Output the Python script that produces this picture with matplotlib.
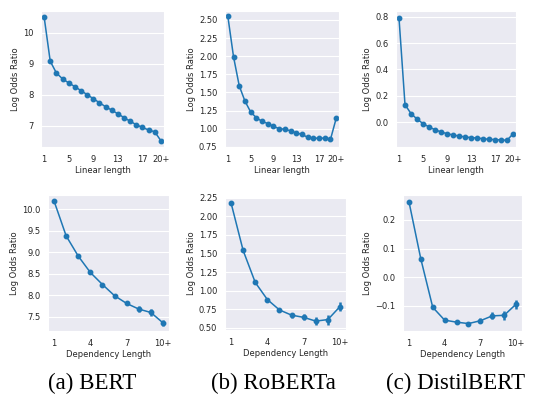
import numpy as np
import matplotlib
matplotlib.use("Agg")
import matplotlib.pyplot as plt
import seaborn as sns

# ---- data ----
LIN_LABELS = ["1", "5", "9", "13", "17", "20+"]
LIN_TICKS = [0, 4, 8, 12, 16, 19]
DEP_LABELS = ["1", "4", "7", "10+"]
DEP_TICKS = [0, 3, 6, 9]

bert_lin = [10.52, 9.08, 8.70, 8.51, 8.38, 8.26, 8.13, 8.00, 7.87, 7.74,
            7.61, 7.50, 7.38, 7.26, 7.14, 7.03, 6.94, 6.86, 6.80, 6.51]
bert_lin_err = [0.01, 0.01, 0.01, 0.01, 0.01, 0.01, 0.01, 0.01, 0.01, 0.01,
                0.01, 0.01, 0.01, 0.01, 0.01, 0.01, 0.015, 0.015, 0.02, 0.03]
roberta_lin = [2.55, 1.99, 1.59, 1.38, 1.23, 1.15, 1.10, 1.07, 1.03, 1.00,
               0.99, 0.97, 0.94, 0.92, 0.88, 0.87, 0.865, 0.87, 0.85, 1.14]
roberta_lin_err = [0.005, 0.005, 0.005, 0.005, 0.005, 0.005, 0.005, 0.005, 0.005, 0.005,
                   0.005, 0.005, 0.006, 0.006, 0.007, 0.008, 0.01, 0.01, 0.012, 0.012]
distil_lin = [0.79, 0.134, 0.066, 0.025, -0.010, -0.035, -0.056, -0.073, -0.086, -0.096,
              -0.104, -0.111, -0.116, -0.119, -0.124, -0.129, -0.131, -0.134, -0.136, -0.088]
distil_lin_err = [0.002, 0.002, 0.002, 0.002, 0.002, 0.002, 0.002, 0.002, 0.002, 0.002,
                  0.002, 0.002, 0.002, 0.002, 0.002, 0.003, 0.003, 0.003, 0.004, 0.004]

bert_dep = [10.19, 9.38, 8.91, 8.53, 8.25, 7.99, 7.81, 7.68, 7.60, 7.36]
bert_dep_err = [0.015, 0.02, 0.02, 0.025, 0.03, 0.035, 0.045, 0.06, 0.074, 0.074]
roberta_dep = [2.18, 1.54, 1.11, 0.88, 0.74, 0.67, 0.64, 0.59, 0.61, 0.785]
roberta_dep_err = [0.008, 0.01, 0.015, 0.02, 0.03, 0.033, 0.04, 0.054, 0.067, 0.065]
distil_dep = [0.264, 0.063, -0.106, -0.151, -0.158, -0.163, -0.153, -0.136, -0.134, -0.095]
distil_dep_err = [0.003, 0.004, 0.004, 0.005, 0.005, 0.006, 0.008, 0.012, 0.016, 0.016]

CAPTIONS = ["(a) BERT", "(b) RoBERTa", "(c) DistilBERT"]

sns.set_style("darkgrid")
plt.rcParams["font.family"] = ["DejaVu Sans"]
BLUE = "#1f77b4"
TXT = "#262626"
W, H = 537, 403


def px_axes(fig, left, top, right, bottom):
    return fig.add_axes([left / W, 1 - bottom / H, (right - left) / W, (bottom - top) / H])


def point_panel(ax, vals, errs, ticks, labels, xlabel, ylim):
    x = np.arange(len(vals))
    ax.errorbar(x, vals, yerr=errs, fmt="none", ecolor=BLUE, elinewidth=1.8, capsize=0)
    ax.plot(x, vals, color=BLUE, lw=1.1, marker="o", ms=3.2)
    ax.set_xlim(-0.5, len(vals) - 0.5)
    ax.set_ylim(*ylim)
    ax.xaxis.grid(False)
    ax.set_xticks(ticks)
    ax.set_xticklabels(labels)
    ax.tick_params(labelsize=6, pad=2, colors=TXT)
    ax.set_xlabel(xlabel, fontsize=6, labelpad=1.5, color=TXT)
    ax.set_ylabel("Log Odds Ratio", fontsize=6, labelpad=2, color=TXT)


fig = plt.figure(figsize=(W / 100, H / 100), dpi=100)

ax = px_axes(fig, 41, 11, 164, 147)
point_panel(ax, bert_lin, bert_lin_err, LIN_TICKS, LIN_LABELS, "Linear length", (6.31, 10.70))
ax.set_yticks([7, 8, 9, 10])

ax = px_axes(fig, 225, 11, 339, 147)
point_panel(ax, roberta_lin, roberta_lin_err, LIN_TICKS, LIN_LABELS, "Linear length", (0.746, 2.624))
ax.set_yticks([0.75, 1.0, 1.25, 1.5, 1.75, 2.0, 2.25, 2.5])
ax.set_yticklabels(["0.75", "1.00", "1.25", "1.50", "1.75", "2.00", "2.25", "2.50"])

ax = px_axes(fig, 396, 11, 516, 147)
point_panel(ax, distil_lin, distil_lin_err, LIN_TICKS, LIN_LABELS, "Linear length", (-0.187, 0.843))
ax.set_yticks([0.0, 0.2, 0.4, 0.6, 0.8])

ax = px_axes(fig, 48, 195, 169, 331)
point_panel(ax, bert_dep, bert_dep_err, DEP_TICKS, DEP_LABELS, "Dependency Length", (7.17, 10.33))
ax.set_yticks([7.5, 8.0, 8.5, 9.0, 9.5, 10.0])

ax = px_axes(fig, 225, 197, 346, 330)
point_panel(ax, roberta_dep, roberta_dep_err, DEP_TICKS, DEP_LABELS, "Dependency Length", (0.47, 2.26))
ax.set_yticks([0.5, 0.75, 1.0, 1.25, 1.5, 1.75, 2.0, 2.25])
ax.set_yticklabels(["0.50", "0.75", "1.00", "1.25", "1.50", "1.75", "2.00", "2.25"])

ax = px_axes(fig, 403, 195, 522, 331)
point_panel(ax, distil_dep, distil_dep_err, DEP_TICKS, DEP_LABELS, "Dependency Length", (-0.189, 0.2875))
ax.set_yticks([-0.1, 0.0, 0.1, 0.2])

for cx, cap in zip([92, 273, 456], CAPTIONS):
    fig.text(cx / W, 1 - 383 / H, cap, ha="center", va="center",
             fontsize=16.5, family="Liberation Serif", color="black")

fig.savefig("out.png", dpi=100)
